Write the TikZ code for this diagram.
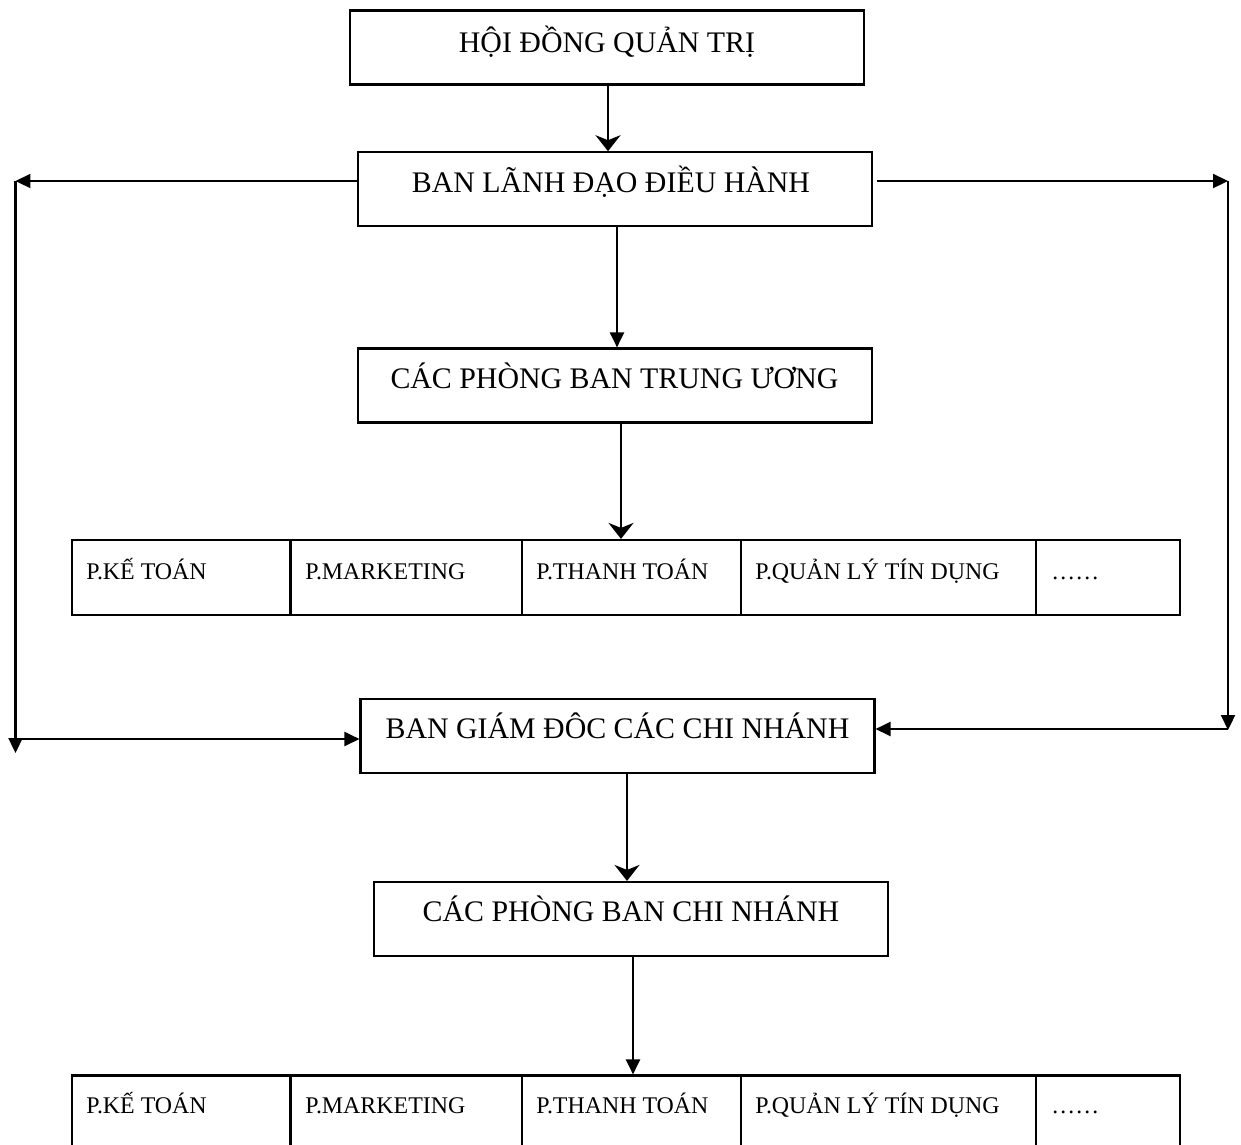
\documentclass[tikz,border=0pt]{standalone}
\usepackage{fontspec}
\setmainfont{Liberation Serif}
\usetikzlibrary{arrows.meta}
\tikzset{
  box/.style={draw, line width=1.25pt, minimum width=10.28cm, minimum height=1.48cm, inner sep=0pt},
  cell/.style={draw, line width=1.25pt, minimum height=1.5cm, inner sep=0pt},
  lbl/.style={font=\fontsize{17}{20}\selectfont, anchor=base, inner sep=0pt},
  clbl/.style={font=\fontsize{13.6}{16}\selectfont, anchor=base west, inner sep=0pt},
  conn/.style={line width=1.25pt},
  tri/.style={-{Triangle[length=0.3cm,width=0.28cm]}},
  stl/.style={-{Stealth[length=0.32cm,width=0.5cm,inset=0.1cm]}}
}
\begin{document}
\begin{tikzpicture}[x=0.02cm,y=-0.02cm]
\useasboundingbox (0,0) rectangle (1241,1144);

% main boxes
\node[box] (b1) at (607.3,47.5) {};
\node[box] (b2) at (615,189.3) {};
\node[box] (b3) at (615,385.5) {};
\node[box] (b5) at (617.5,736) {};
\node[box] (b6) at (631.3,919) {};

\node[lbl] (t1) at (607,52) {HỘI ĐỒNG QUẢN TRỊ};
\node[lbl] (t2) at (611,192) {BAN LÃNH ĐẠO ĐIỀU HÀNH};
\node[lbl] (t3) at (614.5,388) {CÁC PHÒNG BAN TRUNG ƯƠNG};
\node[lbl] (t5) at (617.5,738) {BAN GIÁM ĐÔC CÁC CHI NHÁNH};
\node[lbl] (t6) at (631,921) {CÁC PHÒNG BAN CHI NHÁNH};

% row 1
\node[cell, minimum width=4.37cm]  (c11) at (181.25,577.5) {};
\node[cell, minimum width=4.624cm] (c12) at (406.1,577.5) {};
\node[cell, minimum width=4.386cm] (c13) at (631.35,577.5) {};
\node[cell, minimum width=5.9cm]   (c14) at (888.5,577.5) {};
\node[cell, minimum width=2.88cm]  (c15) at (1108,577.5) {};
\node[clbl] (d11) at (86,579) {P.KẾ TOÁN};
\node[clbl] (d12) at (305,579) {P.MARKETING};
\node[clbl] (d13) at (536,579) {P.THANH TOÁN};
\node[clbl] (d14) at (755,579) {P.QUẢN LÝ TÍN DỤNG};
\node[clbl] (d15) at (1051,579) {……};

% row 2
\node[cell, minimum width=4.37cm]  (c21) at (181.25,1113) {};
\node[cell, minimum width=4.624cm] (c22) at (406.1,1113) {};
\node[cell, minimum width=4.386cm] (c23) at (631.35,1113) {};
\node[cell, minimum width=5.9cm]   (c24) at (888.5,1113) {};
\node[cell, minimum width=2.88cm]  (c25) at (1108,1113) {};
\node[clbl] (d21) at (86,1113) {P.KẾ TOÁN};
\node[clbl] (d22) at (305,1113) {P.MARKETING};
\node[clbl] (d23) at (536,1113) {P.THANH TOÁN};
\node[clbl] (d24) at (755,1113) {P.QUẢN LÝ TÍN DỤNG};
\node[clbl] (d25) at (1051,1113) {……};

% helper coordinates
\coordinate (x1) at (608,0);
\coordinate (x2) at (617,0);
\coordinate (x3) at (621,0);
\coordinate (x5) at (627,0);
\coordinate (x6) at (633,0);
\coordinate (L1) at (15.5,181);
\coordinate (L2) at (15.5,753);
\coordinate (L3) at (15.5,739);
\coordinate (R0) at (876.6,181);
\coordinate (R1) at (1228,181);
\coordinate (R2) at (1228,730);
\coordinate (R3) at (1228,729);

% vertical connectors
\draw[conn,stl] (b1.south -| x1) -- (b2.north -| x1);
\draw[conn,tri] (b2.south -| x2) -- (b3.north -| x2);
\draw[conn,stl] (b3.south -| x3) -- (c13.north -| x3);
\draw[conn,stl] (b5.south -| x5) -- (b6.north -| x5);
\draw[conn,tri] (b6.south -| x6) -- (c23.north -| x6);

% left loop
\draw[conn,tri] (b2.west |- L1) -- (L1);
\draw[conn,tri] (L1) -- (L2);
\draw[conn,tri] (L3) -- (b5.west |- L3);

% right loop
\draw[conn,tri] (R0) -- (R1);
\draw[conn,tri] (R1) -- (R2);
\draw[conn,tri] (R3) -- (b5.east |- R3);
\end{tikzpicture}
\end{document}
